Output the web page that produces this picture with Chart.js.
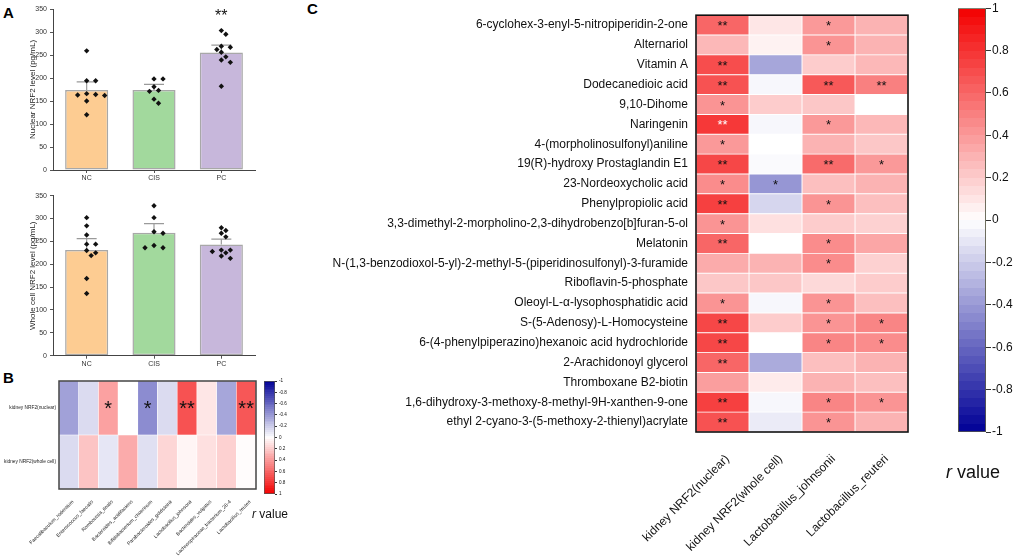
<!DOCTYPE html>
<html><head><meta charset="utf-8">
<script src="https://cdn.jsdelivr.net/npm/chart.js@4.4.1/dist/chart.umd.min.js"></script>
<style>
body{margin:0;width:1020px;height:556px;background:#fff;position:relative;overflow:hidden;font-family:Arial,"Liberation Sans",sans-serif}
canvas{position:absolute}
.lab{position:absolute;font-weight:bold;font-size:15px;line-height:1;color:#000}
.rv{position:absolute;white-space:nowrap;color:#111;line-height:1}
</style></head><body>
<div class="lab" style="left:3px;top:5px">A</div>
<div class="lab" style="left:3px;top:370px">B</div>
<div class="lab" style="left:307px;top:1px">C</div>
<canvas id="aTop" width="262" height="185" style="left:0;top:0"></canvas>
<canvas id="aBot" width="262" height="187" style="left:0;top:185px"></canvas>
<canvas id="bHeat" width="262" height="181" style="left:0;top:375px"></canvas>
<canvas id="bBar" width="42" height="140" style="left:258px;top:375px"></canvas>
<canvas id="cHeat" width="620" height="556" style="left:295px;top:0"></canvas>
<canvas id="cBar" width="70" height="556" style="left:950px;top:0"></canvas>
<div class="rv" style="left:252px;top:508px;font-size:12px"><i>r</i> value</div>
<div class="rv" style="left:946px;top:463px;font-size:18px"><i>r</i> value</div>
<script>
// ---------- Panel A data ----------
const groups = ['NC', 'CIS', 'PC'];
const nuclearMeans = [174, 174, 255.5];
const nuclearSem = [17.5, 12, 16];
const nuclearPoints = [
  [259, 194, 194, 166, 164, 163, 162, 150, 120],
  [198, 198, 181, 173, 171, 154, 145],
  [303, 295, 269, 267, 262, 256, 246, 239, 234, 182]
];
const nuclearSig = ['', '', '**'];
const wholeMeans = [231, 269, 243.5];
const wholeSem = [25, 20, 11.5];
const wholePoints = [
  [302, 284, 264, 244, 244, 230, 225, 219, 169, 136],
  [328, 302, 271, 268, 236, 236, 241],
  [280, 274, 268, 260, 231, 231, 228, 225, 218, 213]
];
const wholeSig = ['', '', ''];
const barColors = ['#FDCC92', '#A2D99D', '#C7B7DB'];
const aTicks = [0, 50, 100, 150, 200, 250, 300, 350];

// ---------- Panel B data ----------
const bTaxa = ['Faecalibaculum_rodentium', 'Enterococcus_faecalis', 'Romboutsia_ilealis', 'Bacteroides_acidifaciens',
  'Bifidobacterium_choerinum', 'Parabacteroides_goldsteinii', 'Lactobacillus_johnsonii', 'Bacteroides_vulgatus',
  'Lachnospiraceae_bacterium_28-4', 'Lactobacillus_reuteri'];
const bRows = ['kidney NRF2(nuclear)', 'kidney NRF2(whole cell)'];
const bNuclearR = [-0.37, -0.14, 0.37, 0, -0.45, -0.14, 0.68, 0.1, -0.35, 0.66];
const bWholeR = [-0.14, 0.23, -0.1, 0.33, -0.12, 0.16, 0.04, 0.12, 0.18, 0.01];
const bNuclearSig = ['', '', '*', '', '*', '', '**', '', '', '**'];
const bWholeSig = ['', '', '', '', '', '', '', '', '', ''];

// ---------- Panel C data ----------
const cMetabolites = ['6-cyclohex-3-enyl-5-nitropiperidin-2-one', 'Alternariol', 'Vitamin A', 'Dodecanedioic acid',
  '9,10-Dihome', 'Naringenin', '4-(morpholinosulfonyl)aniline', '19(R)-hydroxy Prostaglandin E1', '23-Nordeoxycholic acid',
  'Phenylpropiolic acid', '3,3-dimethyl-2-morpholino-2,3-dihydrobenzo[b]furan-5-ol', 'Melatonin',
  'N-(1,3-benzodioxol-5-yl)-2-methyl-5-(piperidinosulfonyl)-3-furamide', 'Riboflavin-5-phosphate',
  'Oleoyl-L-α-lysophosphatidic acid', 'S-(5-Adenosy)-L-Homocysteine', '6-(4-phenylpiperazino)hexanoic acid hydrochloride',
  '2-Arachidonoyl glycerol', 'Thromboxane B2-biotin', '1,6-dihydroxy-3-methoxy-8-methyl-9H-xanthen-9-one',
  'ethyl 2-cyano-3-(5-methoxy-2-thienyl)acrylate'];
const cColumns = ['kidney NRF2(nuclear)', 'kidney NRF2(whole cell)', 'Lactobacillus_johnsonii', 'Lactobacillus_reuteri'];
const cNuclearR = [0.6, 0.28, 0.7, 0.68, 0.42, 0.78, 0.4, 0.72, 0.45, 0.75, 0.42, 0.6, 0.33, 0.22, 0.42, 0.72, 0.72, 0.6, 0.38, 0.75, 0.68];
const cWholeR = [0.1, 0.05, -0.35, -0.03, 0.2, -0.03, 0, -0.02, -0.41, -0.16, 0.12, 0, 0.3, 0.22, -0.03, 0.2, 0, -0.33, 0.08, -0.03, -0.08];
const cJohnsoniiR = [0.4, 0.42, 0.2, 0.65, 0.22, 0.4, 0.3, 0.58, 0.25, 0.42, 0.2, 0.45, 0.45, 0.15, 0.42, 0.42, 0.48, 0.25, 0.3, 0.48, 0.42];
const cReuteriR = [0.3, 0.3, 0.28, 0.5, 0, 0.28, 0.22, 0.4, 0.3, 0.25, 0.18, 0.35, 0.18, 0.2, 0.25, 0.48, 0.45, 0.3, 0.25, 0.42, 0.3];
const cNuclearSig = ['**', '', '**', '**', '*', '**', '*', '**', '*', '**', '*', '**', '', '', '*', '**', '**', '**', '', '**', '**'];
const cWholeSig = ['', '', '', '', '', '', '', '', '*', '', '', '', '', '', '', '', '', '', '', '', ''];
const cJohnsoniiSig = ['*', '*', '', '**', '', '*', '', '**', '', '*', '', '*', '*', '', '*', '*', '*', '', '', '*', '*'];
const cReuteriSig = ['', '', '', '**', '', '', '', '*', '', '', '', '', '', '', '', '*', '*', '', '', '*', ''];
const cNuclearStarColor = cMetabolites.map(m => m === 'Naringenin' ? '#ffffff' : '#111111');

// ---------- helpers ----------
const FONT = 'Arial, "Liberation Sans", sans-serif';
Chart.defaults.font.family = FONT;
Chart.defaults.animation = false;
Chart.defaults.responsive = false;
Chart.defaults.plugins.legend.display = false;
Chart.defaults.plugins.tooltip.enabled = false;

function rColor(r) {
  r = Math.max(-1, Math.min(1, r));
  if (r >= 0) {
    const g = Math.round(255 * (1 - r));
    return `rgb(${Math.round(255 - 12 * r)},${g},${g})`;
  }
  const t = -r;
  const c = Math.round(255 * (1 - t));
  const b = Math.round(255 - t * (255 - 150));
  return `rgb(${c},${c},${b})`;
}
const fmt = v => String(Math.round(v * 10) / 10);

function diamond(ctx, x, y, r) {
  ctx.beginPath();
  ctx.moveTo(x, y - r); ctx.lineTo(x + r, y); ctx.lineTo(x, y + r); ctx.lineTo(x - r, y); ctx.closePath();
  ctx.fill();
}

const swarmPlugin = {
  id: 'swarm',
  afterDatasetsDraw(chart, args, o) {
    const { ctx, scales: { x, y } } = chart;
    const means = chart.data.datasets[0].data;
    ctx.save();
    ctx.strokeStyle = '#9a9a9a'; ctx.lineWidth = 1.2;
    means.forEach((m, i) => {
      const cx = x.getPixelForValue(i);
      const y0 = y.getPixelForValue(m), y1 = y.getPixelForValue(m + o.sem[i]);
      ctx.beginPath(); ctx.moveTo(cx, y0); ctx.lineTo(cx, y1);
      ctx.moveTo(cx - 10, y1); ctx.lineTo(cx + 10, y1); ctx.stroke();
    });
    ctx.fillStyle = '#111';
    o.points.forEach((arr, i) => {
      const cx = x.getPixelForValue(i);
      const placed = [];
      arr.slice().sort((a, b) => b - a).forEach(v => {
        const py = y.getPixelForValue(v);
        let px = cx;
        for (let k = 0; k < 30; k++) {
          const off = k === 0 ? 0 : Math.ceil(k / 2) * 4.5 * (k % 2 ? 1 : -1);
          px = cx + off;
          if (!placed.some(p => Math.hypot(p[0] - px, p[1] - py) < 5.2)) break;
        }
        placed.push([px, py]);
        diamond(ctx, px, py, 2.7);
      });
    });
    ctx.font = '16px ' + FONT; ctx.textAlign = 'center'; ctx.textBaseline = 'alphabetic';
    o.sig.forEach((s, i) => {
      if (!s) return;
      const maxV = Math.max(...o.points[i]);
      ctx.fillText(s, x.getPixelForValue(i), y.getPixelForValue(maxV) - 10);
    });
    ctx.restore();
  }
};

function barChart(id, means, sem, points, sig, title, padTop, xH) {
  new Chart(document.getElementById(id), {
    type: 'bar',
    data: {
      labels: groups,
      datasets: [{
        data: means, backgroundColor: barColors, borderColor: '#a8a8a8', borderWidth: 1.5,
        borderSkipped: false, barPercentage: 0.64, categoryPercentage: 1
      }]
    },
    options: {
      layout: { padding: { left: 24, top: padTop, right: 7 } },
      plugins: { swarm: { sem, points, sig } },
      scales: {
        x: {
          grid: { display: true, offset: false, drawOnChartArea: false, drawTicks: true, tickLength: 3, color: '#555' },
          border: { color: '#444', width: 1 },
          ticks: { font: { size: 7 }, color: '#333', padding: 1 },
          afterFit: s => { s.height = xH; }
        },
        y: {
          min: 0, max: 350,
          afterBuildTicks: s => { s.ticks = aTicks.map(v => ({ value: v })); },
          grid: { display: true, drawOnChartArea: false, drawTicks: true, tickLength: 3, color: '#555' },
          border: { color: '#444', width: 1 },
          ticks: { font: { size: 7 }, color: '#333', padding: 3 },
          title: { display: true, text: title, font: { size: 8 }, color: '#222', padding: 4 },
          afterFit: s => { s.width = 29; }
        }
      }
    },
    plugins: [swarmPlugin]
  });
}
barChart('aTop', nuclearMeans, nuclearSem, nuclearPoints, nuclearSig, 'Nuclear NRF2 level (pg/mL)', 9, 15);
barChart('aBot', wholeMeans, wholeSem, wholePoints, wholeSig, 'Whole cell NRF2 level (pg/mL)', 10.7, 16.3);

const framePlugin = {
  id: 'frame',
  afterDraw(chart, args, o) {
    const { ctx, chartArea: a } = chart;
    ctx.save(); ctx.strokeStyle = o.color || '#111'; ctx.lineWidth = o.width || 1.5;
    ctx.strokeRect(a.left, a.top, a.right - a.left, a.bottom - a.top);
    ctx.restore();
  }
};
const starPlugin = {
  id: 'stars',
  afterDatasetsDraw(chart, args, o) {
    const { ctx } = chart;
    ctx.save();
    ctx.font = o.size + 'px ' + FONT; ctx.textAlign = 'center'; ctx.textBaseline = 'alphabetic';
    chart.data.datasets.forEach((ds, i) => {
      const meta = chart.getDatasetMeta(i);
      ds.sig.forEach((s, j) => {
        if (!s) return;
        const p = meta.data[j].getCenterPoint();
        ctx.fillStyle = ds.starColor ? ds.starColor[j] : '#111';
        ctx.fillText(s, p.x, p.y + o.dy);
      });
    });
    ctx.restore();
  }
};

// ---------- Panel B heatmap ----------
const bRowsBottomUp = [bRows[1], bRows[0]];
new Chart(document.getElementById('bHeat'), {
  type: 'bar',
  data: {
    labels: bTaxa,
    datasets: [
      { data: bWholeR.map(() => 1), r: bWholeR, sig: bWholeSig, backgroundColor: bWholeR.map(rColor) },
      { data: bNuclearR.map(() => 1), r: bNuclearR, sig: bNuclearSig, backgroundColor: bNuclearR.map(rColor) }
    ].map(d => Object.assign(d, { borderColor: 'rgba(255,255,255,0.8)', borderWidth: 0.6, borderSkipped: false, barPercentage: 1, categoryPercentage: 1 }))
  },
  options: {
    layout: { padding: { top: 6, right: 6 } },
    plugins: { stars: { size: 20, dy: 7 }, frame: { color: '#444', width: 1.5 } },
    scales: {
      x: {
        stacked: true,
        grid: { display: false, drawTicks: false }, border: { display: false },
        ticks: { font: { size: 5 }, color: '#222', minRotation: 45, maxRotation: 45, autoSkip: false, padding: 10, labelOffset: 4 },
        afterFit: s => { s.height = 67; }
      },
      y: {
        stacked: true, min: 0, max: 2,
        afterBuildTicks: s => { s.ticks = bRowsBottomUp.map((n, i) => ({ value: i + 0.5 })); },
        grid: { display: false, drawTicks: false }, border: { display: false },
        ticks: { font: { size: 4.8 }, color: '#222', padding: 3, callback: (v, i) => bRowsBottomUp[i] },
        afterFit: s => { s.width = 59; }
      }
    }
  },
  plugins: [starPlugin, framePlugin]
});

function gradientFill(steps) {
  return (ctx) => {
    const ch = ctx.chart;
    if (!ch.chartArea) return '#fff';
    const y = ch.scales.y;
    const y0 = y.getPixelForValue(-1), y1 = y.getPixelForValue(1);
    const g = ch.ctx.createLinearGradient(0, y0, 0, y1);
    for (let k = 0; k < steps; k++) {
      const c = rColor(-1 + 2 * (k + 0.5) / steps);
      g.addColorStop(k / steps, c); g.addColorStop((k + 1) / steps, c);
    }
    return g;
  };
}
function colorbar(id, opts) {
  new Chart(document.getElementById(id), {
    type: 'bar',
    data: { labels: [''], datasets: [{ data: [[-1, 1]], backgroundColor: gradientFill(opts.steps), borderColor: opts.border, borderWidth: opts.bw, borderSkipped: false, barPercentage: 1, categoryPercentage: 1 }] },
    options: {
      layout: { padding: opts.pad },
      scales: {
        x: { display: false },
        y: {
          position: 'right', min: -1, max: 1, reverse: opts.reverse,
          afterBuildTicks: s => { const t = []; for (let k = 0; k <= 10; k++) t.push({ value: -1 + k * 0.2 }); s.ticks = t; },
          grid: { display: true, drawOnChartArea: false, drawTicks: true, tickLength: opts.tl, color: '#333' },
          border: { display: false },
          ticks: { font: { size: opts.fs }, color: '#111', padding: opts.tp, callback: v => fmt(v) },
          afterFit: s => { s.width = opts.w; }
        }
      }
    }
  });
}
colorbar('bBar', { steps: 60, border: '#555', bw: 1, pad: { left: 6, top: 6, bottom: 21 }, reverse: true, tl: 2, fs: 4.6, tp: 2, w: 25 });

// ---------- Panel C heatmap ----------
const cSeries = [cNuclearR, cWholeR, cJohnsoniiR, cReuteriR];
const cSigs = [cNuclearSig, cWholeSig, cJohnsoniiSig, cReuteriSig];
new Chart(document.getElementById('cHeat'), {
  type: 'bar',
  data: {
    labels: cMetabolites,
    datasets: cSeries.map((r, i) => ({
      label: cColumns[i], data: r.map(() => 1), r, sig: cSigs[i], starColor: i === 0 ? cNuclearStarColor : null,
      backgroundColor: r.map(rColor), borderColor: 'rgba(255,255,255,0.75)', borderWidth: 0.8,
      borderSkipped: false, barPercentage: 1, categoryPercentage: 1
    }))
  },
  options: {
    indexAxis: 'y',
    layout: { padding: { top: 7, right: 7 } },
    plugins: { stars: { size: 13, dy: 5 }, frame: { color: '#111', width: 1.6 } },
    scales: {
      x: {
        type: 'linear', stacked: true, min: 0, max: 4,
        afterBuildTicks: s => { s.ticks = cColumns.map((c, i) => ({ value: i + 0.5 })); },
        grid: { display: false, drawTicks: false }, border: { display: false },
        ticks: { font: { size: 12 }, color: '#111', minRotation: 45, maxRotation: 45, autoSkip: false, padding: 20, labelOffset: 5, callback: (v, i) => cColumns[i] },
        afterFit: s => { s.height = 124; }
      },
      y: {
        stacked: true,
        grid: { display: false, drawTicks: false }, border: { display: false },
        ticks: { font: { size: 12 }, color: '#111', padding: 8, autoSkip: false },
        afterFit: s => { s.width = 401; }
      }
    }
  },
  plugins: [starPlugin, framePlugin]
});
colorbar('cBar', { steps: 50, border: '#5a5a48', bw: 1.2, pad: { left: 8, top: 7, bottom: 124 }, reverse: false, tl: 5, fs: 12, tp: 1, w: 34 });
</script>
</body></html>
